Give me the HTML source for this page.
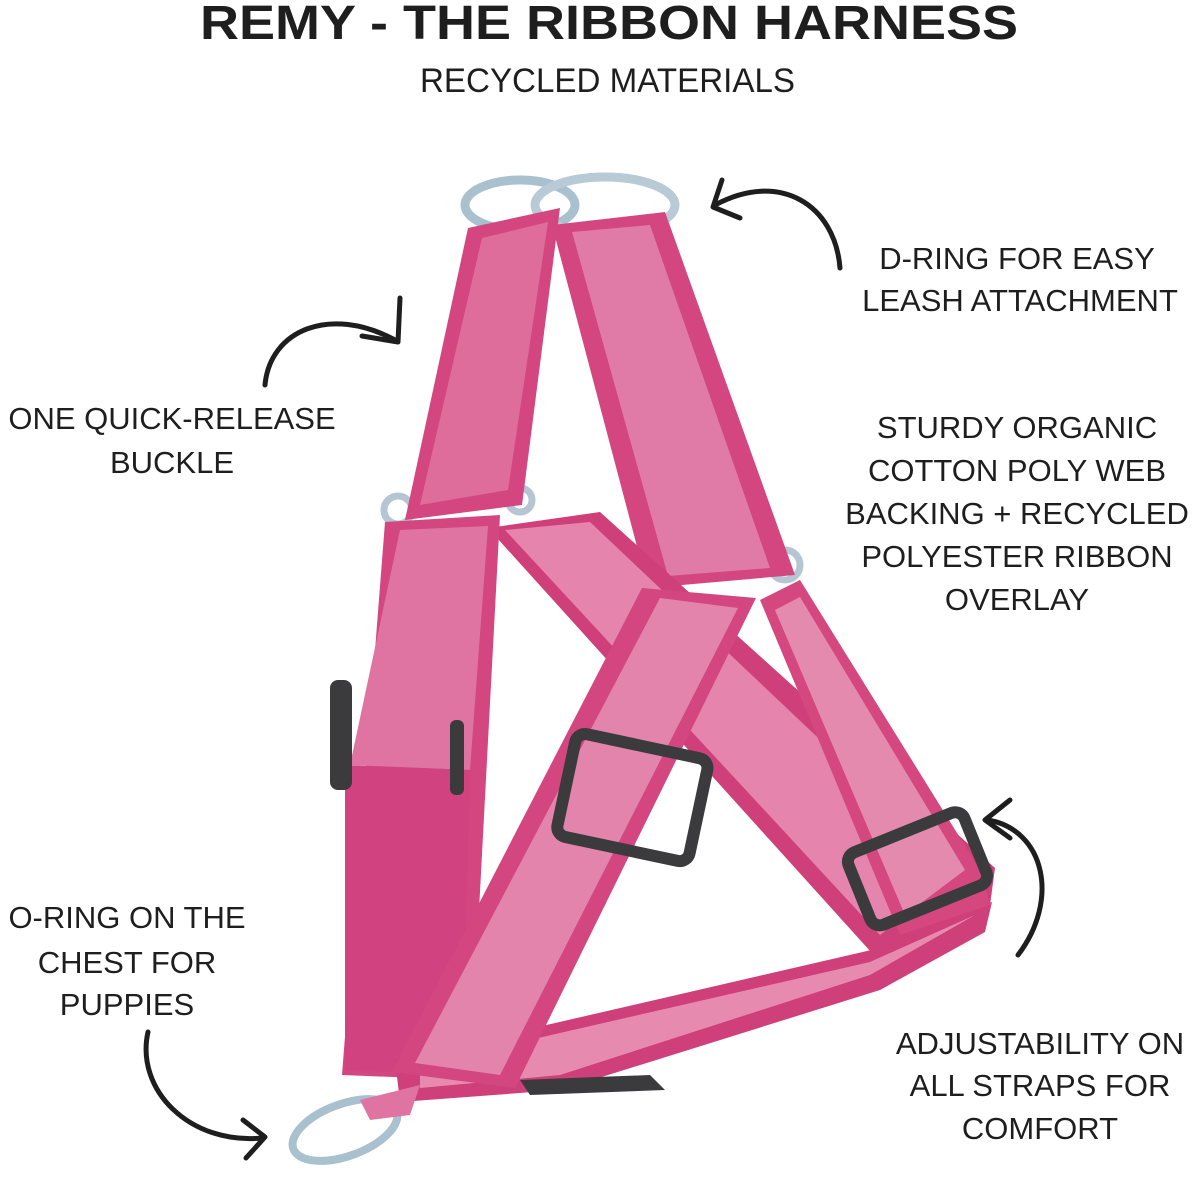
<!DOCTYPE html>
<html><head><meta charset="utf-8"><style>
html,body{margin:0;padding:0;background:#fff;}
svg{display:block;}
text{font-family:"Liberation Sans",sans-serif;fill:#1e1e1e;}
.l{font-size:31px;text-anchor:middle;}
</style></head><body>
<svg width="1200" height="1184" viewBox="0 0 1200 1184" xmlns="http://www.w3.org/2000/svg">
<text x="200" y="39" font-size="48" font-weight="bold" textLength="818" lengthAdjust="spacingAndGlyphs">REMY - THE RIBBON HARNESS</text>
<text x="420" y="92" font-size="34" textLength="375" lengthAdjust="spacingAndGlyphs">RECYCLED MATERIALS</text>

<g class="l">
<text x="1017" y="269" class="l">D-RING FOR EASY</text>
<text x="1020" y="311" class="l">LEASH ATTACHMENT</text>
<text x="172" y="429" class="l">ONE QUICK-RELEASE</text>
<text x="172" y="473" class="l">BUCKLE</text>
<text x="1017" y="438" class="l">STURDY ORGANIC</text>
<text x="1017" y="481" class="l">COTTON POLY WEB</text>
<text x="1017" y="524" class="l">BACKING + RECYCLED</text>
<text x="1017" y="567" class="l">POLYESTER RIBBON</text>
<text x="1017" y="610" class="l">OVERLAY</text>
<text x="127" y="928" class="l">O-RING ON THE</text>
<text x="127" y="973" class="l">CHEST FOR</text>
<text x="127" y="1015" class="l">PUPPIES</text>
<text x="1040" y="1054" class="l">ADJUSTABILITY ON</text>
<text x="1040" y="1096" class="l">ALL STRAPS FOR</text>
<text x="1040" y="1139" class="l">COMFORT</text>
</g>

<!-- arrows -->
<g fill="none" stroke="#1e1e1e" stroke-width="5" stroke-linecap="round" stroke-linejoin="round">
<path d="M840 268 C835 205 780 170 715 205"/><path d="M722 180 L713 207 L740 218"/>
<path d="M265 385 C270 330 330 305 395 340"/><path d="M400 298 L398 342 L362 336"/>
<path d="M1018 955 C1060 900 1045 830 988 820"/><path d="M1010 800 L985 820 L1010 838"/>
<path d="M148 1032 C135 1090 190 1145 262 1138"/><path d="M243 1120 L265 1137 L246 1158"/>
</g>

<!-- harness -->
<g stroke-linejoin="round">
<!-- D-ring -->
<ellipse cx="520" cy="205" rx="55" ry="25" fill="none" stroke="#a9c0cf" stroke-width="9"/>
<ellipse cx="605" cy="205" rx="70" ry="28" fill="none" stroke="#b8cad6" stroke-width="9"/>
<!-- side rings -->
<circle cx="398" cy="510" r="14" fill="none" stroke="#b5c6d2" stroke-width="7"/>
<circle cx="520" cy="500" r="12" fill="none" stroke="#b5c6d2" stroke-width="7"/>
<circle cx="655" cy="575" r="13" fill="none" stroke="#b5c6d2" stroke-width="7"/>
<circle cx="785" cy="565" r="15" fill="none" stroke="#b5c6d2" stroke-width="7"/>
<!-- strap A -->
<polygon points="468,228 560,208 522,505 405,520" fill="#d34680"/>
<polygon points="482,238 548,222 508,490 420,505" fill="#de6d9c"/>
<!-- strap B -->
<polygon points="552,225 665,212 795,575 648,588" fill="#d34680"/>
<polygon points="572,232 650,225 770,568 668,576" fill="#e07aa6"/>
<!-- strap D back diagonal -->
<polygon points="488,528 600,512 995,868 990,905 880,962" fill="#cf3f79"/>
<polygon points="505,530 590,522 960,872 880,935" fill="#e584ad"/>
<!-- strap C left -->
<polygon points="385,522 500,515 470,1080 342,1075" fill="#d34680"/>
<polygon points="400,530 488,526 470,770 350,765" fill="#df74a3"/>
<polygon points="345,765 470,770 462,1075 345,1070" fill="#d04380"/>
<!-- bottom belly strap -->
<polygon points="395,1060 880,948 992,902 985,932 880,990 560,1090 400,1102" fill="#cf3f79"/>
<polygon points="420,1065 870,962 975,915 870,975 560,1075 420,1088" fill="#e78aaf"/>
<!-- strap E front -->
<polygon points="642,588 756,598 515,1088 392,1072" fill="#d34680"/>
<polygon points="660,598 738,608 500,1075 415,1063" fill="#e384ad"/>
<!-- right strap end -->
<polygon points="760,600 800,580 980,870 990,905 900,935" fill="#d5477f"/>
<polygon points="775,610 800,597 965,870 905,915" fill="#e58aaf"/>
<!-- buckles -->
<g fill="none" stroke="#3b3b3d" stroke-width="12">
<rect x="565" y="745" width="135" height="105" rx="10" transform="rotate(12 632 797)"/>
<rect x="855" y="830" width="125" height="78" rx="10" transform="rotate(-22 917 869)"/>
</g>
<rect x="330" y="680" width="22" height="110" rx="8" fill="#3b3b3d"/>
<rect x="450" y="720" width="14" height="75" rx="6" fill="#3b3b3d"/>
<path d="M520 1080 L650 1075 L665 1090 L530 1095 Z" fill="#3b3b3d"/>
<!-- O-ring -->
<ellipse cx="345" cy="1130" rx="55" ry="26" fill="none" stroke="#a9c0cf" stroke-width="8" transform="rotate(-20 345 1130)"/>
<polygon points="360,1100 420,1085 410,1115 370,1120" fill="#df74a3"/>
</g>
</svg>
</body></html>
